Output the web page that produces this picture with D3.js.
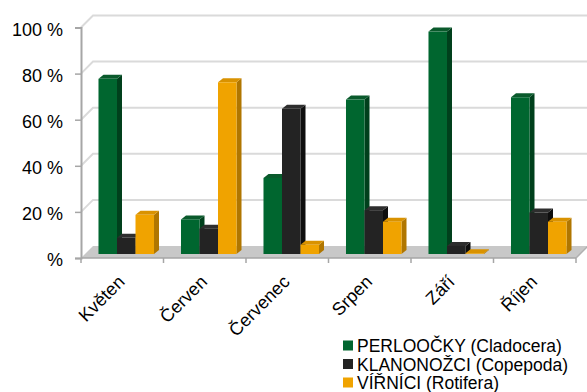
<!DOCTYPE html>
<html>
<head>
<meta charset="utf-8">
<script src="https://cdn.jsdelivr.net/npm/d3@7"></script>
<style>
  html, body { margin: 0; padding: 0; background: #fff; }
  svg { display: block; }
  svg text { font-family: "Liberation Sans", Arial, sans-serif; }
</style>
</head>
<body>
<svg id="chart" width="587" height="392"></svg>
<script>
// Monthly share of zooplankton groups (%)
const months = ["Květen", "Červen", "Červenec", "Srpen", "Září", "Říjen"];
const seriesNames = ["PERLOOČKY (Cladocera)", "KLANONOŽCI (Copepoda)", "VÍŘNÍCI (Rotifera)"];
const cladocera = [76, 15, 33, 67, 96.5, 68];
const copepoda  = [7, 11, 63, 19, 3.5, 18];
const rotifera  = [17, 74.5, 4, 14, 0.3, 14];
const yTicks = [0, 20, 40, 60, 80, 100];
const yTickLabels = ["%", "20 %", "40 %", "60 %", "80 %", "100 %"];

const seriesValues = [cladocera, copepoda, rotifera];
const palette = [
  { front: "#00662f", side: "#00401c", top: "#0a5a2c" },
  { front: "#232323", side: "#0e0e0e", top: "#2e2e2e" },
  { front: "#f0a300", side: "#b07600", top: "#d99200" }
];
const FONT = "'Liberation Sans', Arial, sans-serif";

const svg = d3.select("#chart");

// Plot geometry (front plane) and 3D depth offsets
const left = 81, right = 576, yBase = 258, yTop = 27.5;
const wallDX = 12, wallDY = -12;   // depth of the floor / back wall
const barZ = 4, barDepth = 5;       // bars stand a little behind the front edge

const x = d3.scaleBand().domain(months).range([left, right])
  .paddingInner(0.327).paddingOuter(0.1635);
const xs = d3.scaleBand().domain(d3.range(seriesNames.length)).range([0, x.bandwidth()]);
const y = d3.scaleLinear().domain([0, 100]).range([yBase, yTop]);

// Back wall gridlines with their diagonal on the side wall
const grid = svg.append("g");
yTicks.filter(t => t > 0).forEach(t => {
  grid.append("path")
    .attr("d", `M${left},${y(t)} L${left + wallDX},${y(t) + wallDY} L587,${y(t) + wallDY}`)
    .attr("fill", "none").attr("stroke", "#dadada").attr("stroke-width", 2);
});

// Floor
svg.append("path")
  .attr("d", `M${left},${yBase} L${right},${yBase} L${right + wallDX},${yBase + wallDY} L${left + wallDX},${yBase + wallDY} Z`)
  .attr("fill", "#c8c8c8");

// Y axis
const yAxis = d3.axisLeft(y).tickValues(yTicks)
  .tickFormat((d, i) => yTickLabels[i]).tickSize(6).tickPadding(12);
const gy = svg.append("g").attr("transform", `translate(${left},0)`).call(yAxis)
  .attr("font-family", FONT);
gy.select(".domain").attr("stroke", "#a6a6a6").attr("stroke-width", 2);
gy.selectAll(".tick line").attr("stroke", "#a6a6a6").attr("stroke-width", 1.5);
gy.selectAll(".tick text").attr("font-size", 18).attr("fill", "#000").attr("dy", "0.42em");

// X axis with boundary ticks between categories
svg.append("line").attr("x1", left).attr("x2", right).attr("y1", yBase).attr("y2", yBase)
  .attr("stroke", "#a6a6a6").attr("stroke-width", 1.5);
const bounds = months.map(m => x(m) - x.step() * x.paddingInner() / 2).concat([right]);
bounds.forEach((b, i) => {
  const bx = i === 0 ? left : b;
  svg.append("line").attr("x1", bx).attr("x2", bx).attr("y1", yBase).attr("y2", yBase + 5)
    .attr("stroke", "#a6a6a6").attr("stroke-width", 1.5);
});
svg.append("line").attr("x1", right).attr("y1", yBase).attr("x2", right + wallDX).attr("y2", yBase + wallDY)
  .attr("stroke", "#b0b0b0").attr("stroke-width", 1.5);

// Category labels, rotated
svg.append("g").selectAll("text").data(months).join("text")
  .attr("transform", d => `translate(${x(d) + x.bandwidth() / 2 + 3.5},283) rotate(-45)`)
  .attr("text-anchor", "end")
  .attr("font-family", FONT)
  .attr("font-size", 18)
  .attr("fill", "#000")
  .text(d => d);

// 3D bars: front face, right side face, top face
const bars = svg.append("g");
months.forEach((m, i) => {
  seriesValues.forEach((vals, s) => {
    const v = vals[i];
    const w = xs.bandwidth();
    const x0 = x(m) + xs(s) + barZ;
    const yb = y(0) - barZ;
    const yt = y(v) - barZ;
    const c = palette[s];
    bars.append("path")
      .attr("d", `M${x0 + w},${yt} L${x0 + w + barDepth},${yt - barDepth + 1} L${x0 + w + barDepth},${yb - barDepth + 1} L${x0 + w},${yb} Z`)
      .attr("fill", c.side);
    bars.append("path")
      .attr("d", `M${x0},${yt} L${x0 + barDepth},${yt - barDepth + 1} L${x0 + w + barDepth},${yt - barDepth + 1} L${x0 + w},${yt} Z`)
      .attr("fill", c.top);
    bars.append("rect")
      .attr("x", x0).attr("y", yt).attr("width", w).attr("height", Math.max(0, yb - yt))
      .attr("fill", c.front);
  });
});

// Legend
const legend = svg.append("g").attr("transform", "translate(343,0)");
seriesNames.forEach((name, s) => {
  const by = 352 + s * 18.5;
  legend.append("rect").attr("x", 0).attr("y", by - 11.5).attr("width", 10).attr("height", 10)
    .attr("fill", palette[s].front);
  legend.append("text").attr("x", 14).attr("y", by)
    .attr("font-family", FONT).attr("font-size", 17.5).attr("fill", "#000").text(name);
});
</script>
</body>
</html>
